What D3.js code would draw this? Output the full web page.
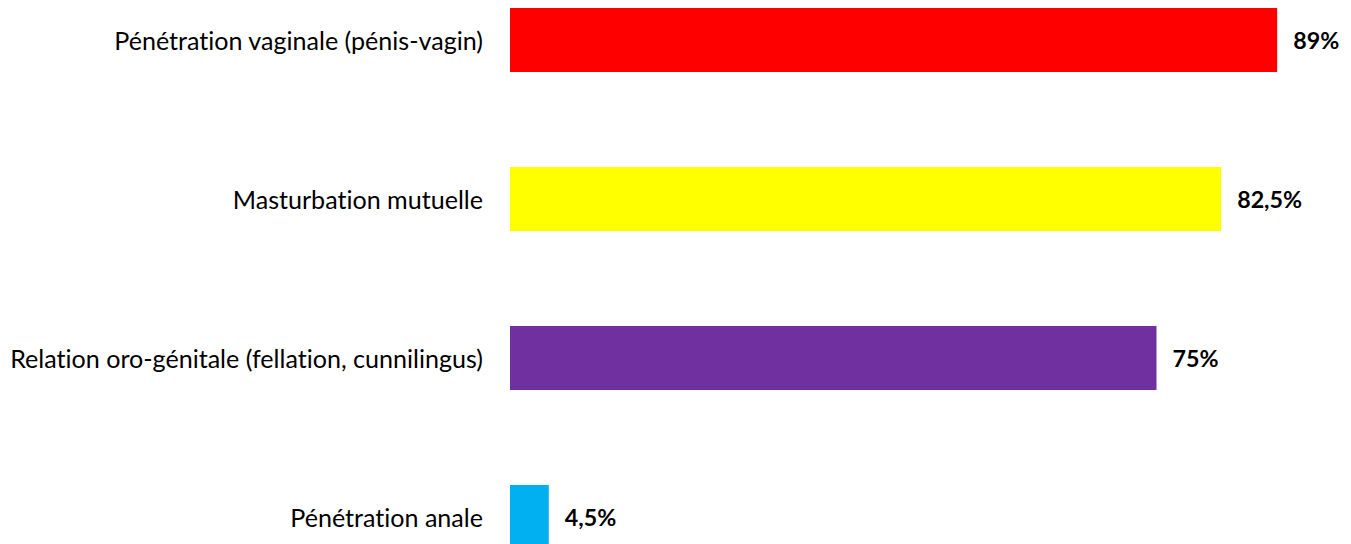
<!DOCTYPE html>
<html><head><meta charset="utf-8">
<script src="https://cdn.jsdelivr.net/npm/d3@7"></script>
<style>body{margin:0;background:#fff}svg{display:block}text{font-variant-ligatures:none;font-feature-settings:"liga" 0,"clig" 0}</style>
</head><body>
<svg id="c" width="1351" height="544"></svg>
<script>
const categories = ["Pénétration vaginale (pénis-vagin)", "Masturbation mutuelle", "Relation oro-génitale (fellation, cunnilingus)", "Pénétration anale"];
const values = [89, 82.5, 75, 4.5];
const valueLabels = ["89%", "82,5%", "75%", "4,5%"];
const colors = ["#FF0000", "#FFFF00", "#7030A0", "#00B0F0"];

const svg = d3.select("#c");
const x = d3.scaleLinear().domain([0, 100]).range([510, 1372]);
const y = d3.scaleBand().domain(categories).range([8, 549]).paddingInner(95/159).paddingOuter(0);

svg.selectAll("rect.bar").data(categories).join("rect")
  .attr("x", x(0)).attr("y", d => y(d))
  .attr("width", (d,i) => x(values[i]) - x(0))
  .attr("height", y.bandwidth())
  .attr("fill", (d,i) => colors[i]);

const font = "Lato, 'Open Sans', sans-serif";
const cats = svg.selectAll("text.cat").data(categories).join("text")
  .attr("class", "cat")
  .attr("x", 483).attr("y", d => y(d) + y.bandwidth()/2)
  .attr("text-anchor", "end").attr("dominant-baseline", "central")
  .attr("font-family", font).attr("font-size", 20).attr("fill", "#000")
  .text(d => d);
const longest = d3.max(cats.nodes(), n => n.getComputedTextLength());
cats.attr("font-size", 20 * 473 / longest);

const vals = svg.selectAll("text.val").data(categories).join("text")
  .attr("class", "val")
  .attr("x", (d,i) => x(values[i]) + 16).attr("y", d => y(d) + y.bandwidth()/2)
  .attr("dominant-baseline", "central")
  .attr("font-family", font).attr("font-size", 20).attr("font-weight", "bold").attr("fill", "#000")
  .text((d,i) => valueLabels[i]);
const w825 = vals.filter((d,i) => i === 1).node().getComputedTextLength();
vals.attr("font-size", 20 * 65 / w825);
</script>
</body></html>
